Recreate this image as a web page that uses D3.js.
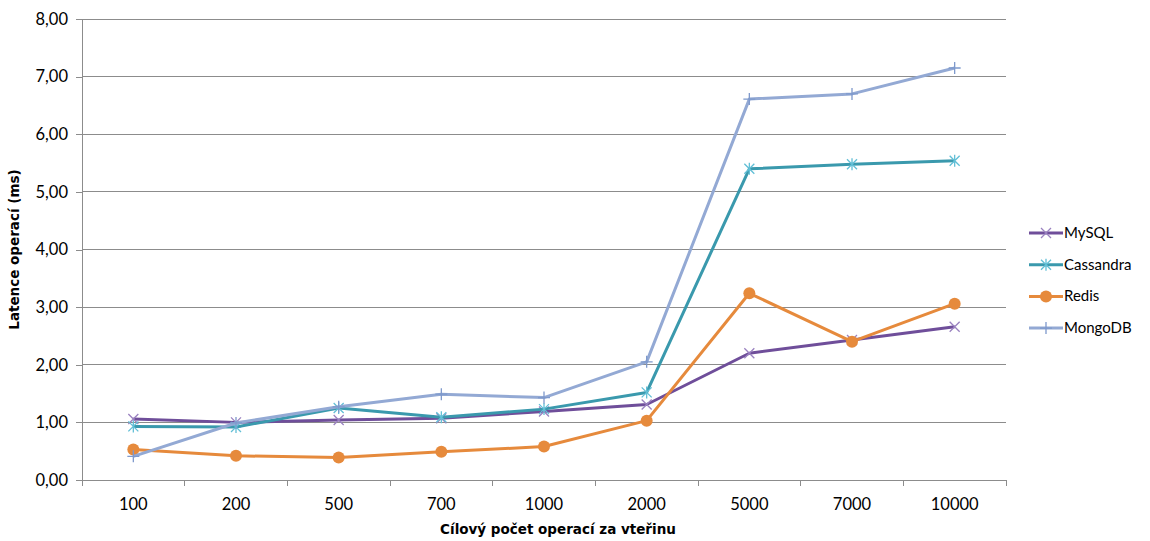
<!DOCTYPE html>
<html>
<head>
<meta charset="utf-8">
<script src="https://cdn.jsdelivr.net/npm/d3@7"></script>
<style>
  body { margin:0; background:#fff; }
  text { font-family: Lato, "Open Sans", sans-serif; fill:#000; }
</style>
</head>
<body>
<div id="chart"></div>
<script>
// data
var categories=["100","200","500","700","1000","2000","5000","7000","10000"];
var mysql    =[1.06,1.00,1.04,1.07,1.19,1.31,2.20,2.43,2.66];
var cassandra=[0.93,0.92,1.25,1.09,1.23,1.52,5.40,5.48,5.54];
var redis    =[0.53,0.42,0.39,0.49,0.58,1.03,3.24,2.40,3.06];
var mongodb  =[0.41,0.99,1.27,1.49,1.43,2.05,6.61,6.70,7.15];
var yTicks=[0,1,2,3,4,5,6,7,8];

var series=[
    {name:"MySQL",values:mysql,color:"#6f4e9a",mcolor:"#9a82c0",marker:"x"},
    {name:"Cassandra",values:cassandra,color:"#3a99ad",mcolor:"#62bfd6",marker:"star"},
    {name:"Redis",values:redis,color:"#e68a3c",mcolor:"#e68a3c",marker:"circle"},
    {name:"MongoDB",values:mongodb,color:"#93a9d4",mcolor:"#7e99cc",marker:"plus"}
];

var width=1150, height=541;
var mLeft=82, mRight=1006, mTop=19, mBottom=480;

var svg=d3.select("#chart").append("svg")
    .attr("width",width).attr("height",height);

var x=d3.scaleBand().domain(categories).range([mLeft,mRight]);
var y=d3.scaleLinear().domain([0,8]).range([mBottom,mTop]);

// gridlines
svg.append("g").selectAll("line").data(yTicks.slice(1)).join("line")
    .attr("x1",mLeft).attr("x2",mRight)
    .attr("y1",d=>y(d)).attr("y2",d=>y(d))
    .attr("stroke","#8c8c8c").attr("stroke-width",1)
    .attr("shape-rendering","crispEdges");

// y axis
var yAxis=svg.append("g").attr("transform","translate("+mLeft+",0)")
    .call(d3.axisLeft(y).tickValues(yTicks).tickSize(6).tickPadding(8)
        .tickFormat(d=>d3.format(".2f")(d).replace(".",",")));
// x axis, ticks at band boundaries
var xAxis=svg.append("g").attr("transform","translate(0,"+mBottom+")")
    .call(d3.axisBottom(x).tickSize(0).tickPadding(18));
xAxis.selectAll(".bnd").data(d3.range(categories.length+1)).join("line")
    .attr("class","bnd")
    .attr("x1",i=>mLeft+i*x.step()).attr("x2",i=>mLeft+i*x.step())
    .attr("y1",0).attr("y2",6).attr("stroke","#8c8c8c")
    .attr("shape-rendering","crispEdges");

[yAxis,xAxis].forEach(function(a){
    a.select(".domain").attr("stroke","#8c8c8c").attr("shape-rendering","crispEdges");
    a.selectAll(".tick line").attr("stroke","#8c8c8c").attr("shape-rendering","crispEdges");
    a.selectAll("text").attr("font-size",16.5).attr("fill","#000");
});

// axis titles
svg.append("text")
    .attr("transform","translate(19,"+((mTop+mBottom)/2)+") rotate(-90)")
    .attr("text-anchor","middle").attr("font-size",13.5).attr("font-weight","bold")
    .style("font-family","'DejaVu Sans', sans-serif")
    .text("Latence operací (ms)");
svg.append("text")
    .attr("x",(mLeft+mRight)/2+14).attr("y",534)
    .attr("text-anchor","middle").attr("font-size",13.5).attr("font-weight","bold")
    .style("font-family","'DejaVu Sans', sans-serif")
    .text("Cílový počet operací za vteřinu");

function drawMarker(g,type,cx,cy,color){
    var s=5;
    if (type=="circle"){
        g.append("circle").attr("cx",cx).attr("cy",cy).attr("r",6).attr("fill",color);
        return;
    }
    var d="";
    if (type=="x" || type=="star")
        d+="M"+(cx-s)+","+(cy-s)+"L"+(cx+s)+","+(cy+s)+"M"+(cx-s)+","+(cy+s)+"L"+(cx+s)+","+(cy-s);
    if (type=="plus" || type=="star")
        d+="M"+cx+","+(cy-s-1)+"L"+cx+","+(cy+s+1);
    if (type=="plus")
        d+="M"+(cx-s-1)+","+cy+"L"+(cx+s+1)+","+cy;
    g.append("path").attr("d",d).attr("stroke",color).attr("stroke-width",1.3).attr("fill","none");
}

var line=d3.line().x((d,i)=>x(categories[i])+x.bandwidth()/2).y(d=>y(d));

series.forEach(function(s){
    var g=svg.append("g");
    g.append("path").attr("d",line(s.values))
        .attr("fill","none").attr("stroke",s.color).attr("stroke-width",3)
        .attr("stroke-linejoin","round");
    s.values.forEach(function(v,i){
        drawMarker(g,s.marker,x(categories[i])+x.bandwidth()/2,y(v),s.mcolor);
    });
});

// legend
var lg=svg.append("g");
series.forEach(function(s,i){
    var ly=233+i*31.7;
    lg.append("line").attr("x1",1029).attr("x2",1063).attr("y1",ly).attr("y2",ly)
        .attr("stroke",s.color).attr("stroke-width",3);
    drawMarker(lg,s.marker,1046,ly,s.mcolor);
    lg.append("text").attr("x",1064).attr("y",ly+5).attr("font-size",15).text(s.name);
});
</script>
</body>
</html>
